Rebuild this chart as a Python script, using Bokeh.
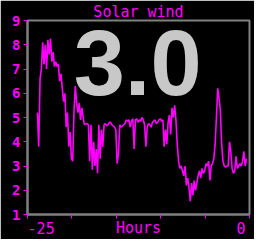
from bokeh.plotting import figure
from bokeh.models import Range1d, FixedTicker, ColumnDataSource
from bokeh.core.properties import value
from bokeh.embed import file_html
from bokeh.resources import INLINE

title_text = "Solar wind"
x_label = "Hours"
x_ticks = [-25, -20, -15, -10, -5, 0]
x_tick_labels = {-25: "-25", 0: "0"}
y_ticks = [1, 2, 3, 4, 5, 6, 7, 8, 9]
current_value = "3.0"
start_hour = -23.88
end_hour = -0.34

speed = [
    5.2, 3.8, 6.6, 7.0, 8.1, 7.2, 8.0, 7.0, 8.2, 7.6, 8.25, 7.3, 7.7, 7.1, 7.3, 7.1,
    7.2, 6.5, 6.8, 6.2, 5.65, 6.0, 4.6, 5.2, 3.8, 4.4, 3.3, 3.2, 5.3, 6.3, 5.6, 5.2,
    5.6, 4.9, 5.4, 5.0, 4.7, 4.75, 4.75, 4.7, 3.2, 4.7, 2.85, 4.0, 3.0, 3.7, 2.7, 4.7,
    3.3, 4.5, 3.8, 4.7, 4.75, 4.65, 4.7, 4.8, 4.8, 4.7, 4.65, 4.6, 4.5, 3.1, 3.5, 4.7,
    4.6, 4.65, 4.7, 4.75, 4.9, 4.85, 4.9, 4.6, 4.85, 4.95, 3.7, 4.9, 4.95, 4.8, 4.9, 4.85,
    5.0, 4.9, 4.7, 3.8, 4.6, 4.75, 4.7, 4.6, 4.8, 4.85, 4.9, 4.75, 4.8, 4.9, 4.95, 4.85,
    4.9, 3.8, 4.5, 3.9, 4.8, 5.1, 4.3, 5.4, 5.0, 5.5, 4.9, 3.9, 3.2, 2.9, 3.0, 2.8,
    2.6, 3.0, 2.2, 2.5, 2.1, 1.55, 2.3, 1.8, 2.4, 2.0, 2.3, 2.6, 2.8, 2.5, 2.9, 2.7,
    2.8, 3.1, 3.0, 3.2, 2.4, 3.0, 3.1, 3.3, 3.9, 5.0, 6.2, 5.8, 5.3, 3.9, 3.2, 3.0,
    2.95, 3.0, 3.0, 4.0, 3.6, 2.9, 2.7, 2.8, 3.4, 2.9, 3.0, 3.1, 3.0, 3.2, 3.6, 3.0,
    3.3,
]
n = len(speed)
hours = [start_hour + (end_hour - start_hour) * i / (n - 1) for i in range(n)]

MAG = "#ff00ff"
GRAY = "#808080"
MONO = "DejaVu Sans Mono"
NB = "\u00a0"

p = figure(width=254, height=239, output_backend="svg", toolbar_location=None,
           x_range=Range1d(-25, 0), y_range=Range1d(1, 9),
           min_border_left=27, min_border_right=5, min_border_top=17, min_border_bottom=24)
p.background_fill_color = "black"
p.border_fill_color = "black"
p.outline_line_color = GRAY
p.outline_line_width = 2
p.grid.visible = False

p.title.text = title_text
p.title.align = "center"
p.title.text_color = MAG
p.title.text_font = MONO
p.title.text_font_size = "15px"
p.title.text_font_style = "normal"
p.title.offset = 0
p.title.standoff = 0

for ax in (p.xaxis[0], p.yaxis[0]):
    ax.axis_line_color = GRAY
    ax.axis_line_width = 2
    ax.major_tick_line_color = MAG
    ax.major_tick_line_width = 1
    ax.major_tick_out = 4
    ax.major_tick_in = 0
    ax.minor_tick_line_color = None

# tick labels padded so that "-25" starts at the left edge and "0" ends at the right edge
overrides = {}
for t in x_ticks:
    if t == -25:
        overrides[t] = NB * len(x_tick_labels[t]) + x_tick_labels[t]
    elif t == 0:
        overrides[t] = x_tick_labels[t] + NB * len(x_tick_labels[t])
    else:
        overrides[t] = ""
p.xaxis.ticker = FixedTicker(ticks=x_ticks)
p.xaxis.major_label_overrides = overrides
p.xaxis.major_label_text_color = MAG
p.xaxis.major_label_text_font = MONO
p.xaxis.major_label_text_font_size = "15px"
p.xaxis.major_label_standoff = 1
p.xaxis.axis_label = x_label
p.xaxis.axis_label_text_color = MAG
p.xaxis.axis_label_text_font = MONO
p.xaxis.axis_label_text_font_size = "15px"
p.xaxis.axis_label_text_font_style = "normal"
p.xaxis.axis_label_standoff = -22

p.yaxis.ticker = FixedTicker(ticks=y_ticks)
p.yaxis.major_label_text_color = MAG
p.yaxis.major_label_text_font = MONO
p.yaxis.major_label_text_font_size = "14px"
p.yaxis.major_label_text_font_style = "bold"
p.yaxis.major_label_standoff = 3

big_src = ColumnDataSource(dict(x=[-12.6], y=[7.23], t=[current_value]))
p.text(x="x", y="y", text="t", source=big_src, text_color="#c8c8c8",
       text_font=value("'Liberation Sans Narrow', 'Liberation Sans'"),
       text_font_size="92px", text_font_style="bold",
       text_align="center", text_baseline="alphabetic")

p.line(hours, speed, line_color=MAG, line_width=1.6)

open("out.html", "w").write(file_html(p, INLINE))
